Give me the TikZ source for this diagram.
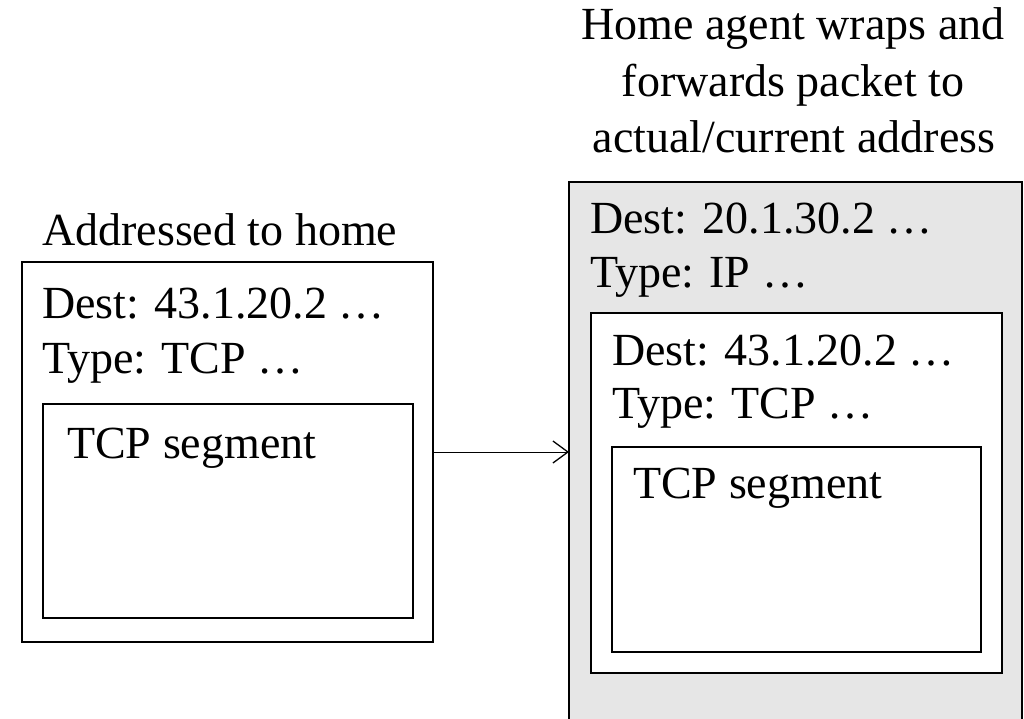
\documentclass[tikz,border=0pt]{standalone}
\usepackage{fontspec}
\setmainfont{Liberation Serif}
\usetikzlibrary{arrows.meta}
\begin{document}
\begin{tikzpicture}[x=1pt,y=-1pt,
  box/.style={draw=black,line width=2pt,minimum width=#1,inner sep=0pt,outer sep=0pt},
  txt/.style={anchor=base west,inner sep=0pt,font=\fontsize{46}{56}\selectfont},
  ttl/.style={anchor=base,inner sep=0pt,font=\fontsize{46}{56}\selectfont}]
\useasboundingbox (0,0) rectangle (1024,718);
\clip (0,0) rectangle (1024,718);
% left packet
\node[box=411pt,minimum height=380pt] (lbox) at (227.5,452) {};
\node[box=370pt,minimum height=214pt] (lseg) at (228,511) {};
\node[txt] (ltitle) at (42,245) {Addressed to home};
\node[txt] (ldest) at (42,318) {Dest: 43.1.20.2 …};
\node[txt] (ltype) at (42,373) {Type: TCP …};
\node[txt] (lsegt) at (67,458) {TCP segment};
% right packet
\node[box=453pt,minimum height=588pt,fill={rgb,255:red,230;green,230;blue,230}] (gbox) at (795.5,476) {};
\node[box=411pt,minimum height=360pt,fill=white] (mbox) at (796.5,493) {};
\node[box=369pt,minimum height=205pt,fill=white] (rseg) at (796.5,549.5) {};
\node[txt] (gdest) at (590,233) {Dest: 20.1.30.2 …};
\node[txt] (gtype) at (590,287) {Type: IP …};
\node[txt] (mdest) at (612,365) {Dest: 43.1.20.2 …};
\node[txt] (mtype) at (612,418) {Type: TCP …};
\node[txt] (rsegt) at (633,498) {TCP segment};
\node[ttl] (t1) at (793,39) {Home agent wraps and};
\node[ttl] (t2) at (793,96) {forwards packet to};
\node[ttl] (t3) at (794,152) {actual/current address};
% arrow
\draw[line width=1pt,-{Straight Barb[length=15pt,width=22pt,line width=1.3pt]}] (lbox.east) -- (lbox.east -| gbox.west);
\end{tikzpicture}
\end{document}
